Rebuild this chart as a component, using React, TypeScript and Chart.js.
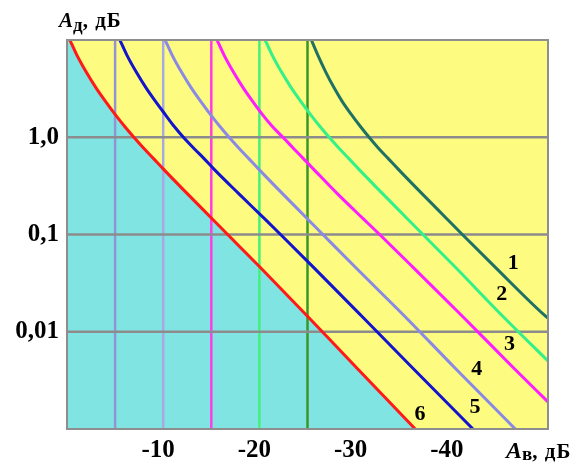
import React, { useEffect, useRef } from "react";
import { Chart, registerables } from "chart.js";

Chart.register(...registerables);

// ---- data: A_в (dB) on x, A_д (dB) on a log y axis ----
// A_д levels shared by the read-off points of every curve
const levelsY = [10, 7.08, 4.68, 3.24, 2.34, 1.72, 1.29, 1.0, 0.767, 0.603, 0.473, 0.263, 0.148, 0.1, 0.0468, 0.01445, 0.00437, 0.001];

const curve6X = [-0.3, -1.0, -2.0, -3.0, -4.0, -5.0, -6.0, -6.95, -8.0, -9.0, -10.0, -12.5, -15.0, -16.7, -20.0, -25.0, -30.0, -36.2];
const curve5X = [-5.5, -6.2, -7.2, -8.2, -9.2, -10.2, -11.15, -12.1, -13.2, -14.25, -15.25, -17.85, -20.45, -22.2, -25.55, -30.65, -35.8, -42.2];
const curve4X = [-10.2, -10.9, -11.9, -12.9, -13.9, -14.9, -15.9, -16.85, -17.9, -18.9, -19.9, -22.4, -24.9, -26.6, -29.9, -35.1, -40.2, -46.6];
const curve3X = [-15.6, -16.3, -17.3, -18.3, -19.3, -20.3, -21.35, -22.45, -23.55, -24.57, -25.6, -28.1, -30.7, -32.5, -35.9, -41.1, -46.3, -50.0];
const curve3Y = [10, 7.08, 4.68, 3.24, 2.34, 1.72, 1.29, 1.0, 0.767, 0.603, 0.473, 0.263, 0.148, 0.1, 0.0468, 0.01445, 0.00437, 0.0019];
const curve2X = [-20.6, -21.3, -22.3, -23.3, -24.3, -25.3, -26.3, -27.25, -28.3, -29.3, -30.3, -32.8, -35.3, -37.0, -40.3, -45.3, -50.0];
const curve2Y = [10, 7.08, 4.68, 3.24, 2.34, 1.72, 1.29, 1.0, 0.767, 0.603, 0.473, 0.263, 0.148, 0.1, 0.0468, 0.01445, 0.005];
const curve1X = [-25.4, -26.05, -26.9, -27.75, -28.6, -29.55, -30.5, -31.4, -32.4, -33.4, -34.4, -36.9, -39.4, -41.1, -44.45, -49.75, -50.0];
const curve1Y = [10, 7.08, 4.68, 3.24, 2.34, 1.72, 1.29, 1.0, 0.767, 0.603, 0.473, 0.263, 0.148, 0.1, 0.0468, 0.01445, 0.0138];

const curveColors = ["#1f7263", "#33f088", "#ff1cff", "#8a8ae6", "#1414cc", "#ff1a1a"];
const curveNames = ["1", "2", "3", "4", "5", "6"];
const curveLabelX = [-46.4, -45.2, -46.0, -42.6, -42.4, -36.7];
const curveLabelY = [0.051, 0.024, 0.0074, 0.0041, 0.00166, 0.0014];

const asymptoteX = [-5, -10, -15, -20, -25];
const asymptoteColors = ["#9494d4", "#a8a8e4", "#ff3ce6", "#44f07c", "#3a9628"];

const gridY = [1, 0.1, 0.01];
const yTickValues = [0.001, 0.01, 0.1, 1, 10];
const yTickLabels = ["", "0,01", "0,1", "1,0", ""];
const xMin = -50;
const xMax = 0;
const yMin = 0.001;
const yMax = 10;

const curvesX = [curve1X, curve2X, curve3X, curve4X, curve5X, curve6X];
const curvesY = [curve1Y, curve2Y, curve3Y, levelsY, levelsY, levelsY];

const pts = (xs: number[], ys: number[]) => xs.map((x, i) => ({ x, y: ys[i] }));

const FONT = "'Liberation Serif', 'Times New Roman', serif";

const bgPlugin = {
  id: "plotBg",
  beforeDatasetsDraw(chart: any) {
    const { ctx, chartArea } = chart;
    ctx.save();
    ctx.fillStyle = "#fdfb80";
    ctx.fillRect(chartArea.left, chartArea.top, chartArea.right - chartArea.left, chartArea.bottom - chartArea.top);
    ctx.restore();
  },
  afterDatasetsDraw(chart: any) {
    const { ctx, chartArea, scales } = chart;
    ctx.save();
    ctx.strokeStyle = "#8e8e8e";
    ctx.lineWidth = 2;
    ctx.strokeRect(chartArea.left, chartArea.top, chartArea.right - chartArea.left, chartArea.bottom - chartArea.top);
    ctx.fillStyle = "#000";
    ctx.font = `bold 22px ${FONT}`;
    ctx.textAlign = "center";
    ctx.textBaseline = "middle";
    curveNames.forEach((n, i) => {
      ctx.fillText(n, scales.x.getPixelForValue(curveLabelX[i]), scales.y.getPixelForValue(curveLabelY[i]));
    });
    ctx.restore();
  },
};

export default function App() {
  const ref = useRef<HTMLCanvasElement | null>(null);

  useEffect(() => {
    if (!ref.current) return;
    const datasets: any[] = [];
    curvesX.forEach((xs, i) => {
      datasets.push({
        label: curveNames[i],
        data: pts(xs, curvesY[i]),
        borderColor: curveColors[i],
        borderWidth: 3,
        pointRadius: 0,
        fill: false,
        cubicInterpolationMode: "monotone",
        order: 1,
      });
    });
    gridY.forEach((g) => {
      datasets.push({
        label: "grid",
        data: [{ x: xMax, y: g }, { x: xMin, y: g }],
        borderColor: "#8c8c8c",
        borderWidth: 2.5,
        pointRadius: 0,
        fill: false,
        order: 5,
      });
    });
    asymptoteX.forEach((a, i) => {
      datasets.push({
        label: "v",
        data: [{ x: a, y: yMin }, { x: a, y: yMax }],
        borderColor: asymptoteColors[i],
        borderWidth: 2.5,
        pointRadius: 0,
        fill: false,
        order: 6,
      });
    });
    // cyan region below curve 6
    datasets.push({
      label: "region",
      data: [{ x: xMax, y: yMax }, ...pts(curve6X, levelsY)],
      borderColor: "rgba(0,0,0,0)",
      borderWidth: 0,
      backgroundColor: "#7fe4e2",
      pointRadius: 0,
      fill: "start",
      cubicInterpolationMode: "monotone",
      order: 10,
    });

    const chart = new Chart(ref.current, {
      type: "line",
      data: { datasets },
      plugins: [bgPlugin],
      options: {
        animation: false,
        responsive: true,
        maintainAspectRatio: false,
        layout: { padding: { left: 0, top: 40, right: 34, bottom: 0 } },
        plugins: { legend: { display: false }, tooltip: { enabled: false } },
        scales: {
          x: {
            type: "linear",
            min: xMin,
            max: xMax,
            reverse: true,
            grid: { display: false, drawTicks: false },
            border: { display: false },
            afterFit(scale: any) {
              scale.height = 39;
            },
            ticks: {
              stepSize: 10,
              padding: 7,
              labelOffset: -5,
              maxRotation: 0,
              color: "#000",
              font: { family: FONT, size: 25, weight: "bold" },
              callback: (v: any) => (v === 0 || v === -50 ? "" : String(v)),
            },
          },
          y: {
            type: "logarithmic",
            min: yMin,
            max: yMax,
            grid: { display: false, drawTicks: false },
            border: { display: false },
            afterFit(scale: any) {
              scale.width = 67;
            },
            afterBuildTicks(scale: any) {
              scale.ticks = yTickValues.map((v) => ({ value: v }));
            },
            ticks: {
              padding: 8,
              color: "#000",
              font: { family: FONT, size: 25, weight: "bold" },
              callback: (v: any) => {
                const i = yTickValues.findIndex((t) => Math.abs(t - v) < t * 1e-6);
                return i >= 0 ? yTickLabels[i] : "";
              },
            },
          },
        },
      } as any,
    });
    return () => chart.destroy();
  }, []);

  return (
    <div style={{ position: "fixed", left: 0, top: 0, width: 582, height: 468, background: "#fff" }}>
      <canvas ref={ref} />
      <div
        style={{
          position: "absolute",
          left: 59,
          top: 10,
          fontFamily: FONT,
          fontWeight: "bold",
          fontSize: 21,
          lineHeight: "20px",
          whiteSpace: "nowrap",
          color: "#000",
        }}
      >
        <i style={{ fontSize: 21 }}>A</i>
        <span style={{ fontSize: 19, position: "relative", top: 4 }}>д</span>
        <span style={{ letterSpacing: 1 }}>, дБ</span>
      </div>
      <div
        style={{
          position: "absolute",
          left: 506,
          top: 439,
          fontFamily: FONT,
          fontWeight: "bold",
          fontSize: 21,
          lineHeight: "22px",
          whiteSpace: "nowrap",
          color: "#000",
        }}
      >
        <i style={{ fontSize: 24 }}>A</i>
        <span style={{ fontSize: 19, position: "relative", top: 2 }}>в</span>
        <span style={{ letterSpacing: 1 }}>, дБ</span>
      </div>
    </div>
  );
}
